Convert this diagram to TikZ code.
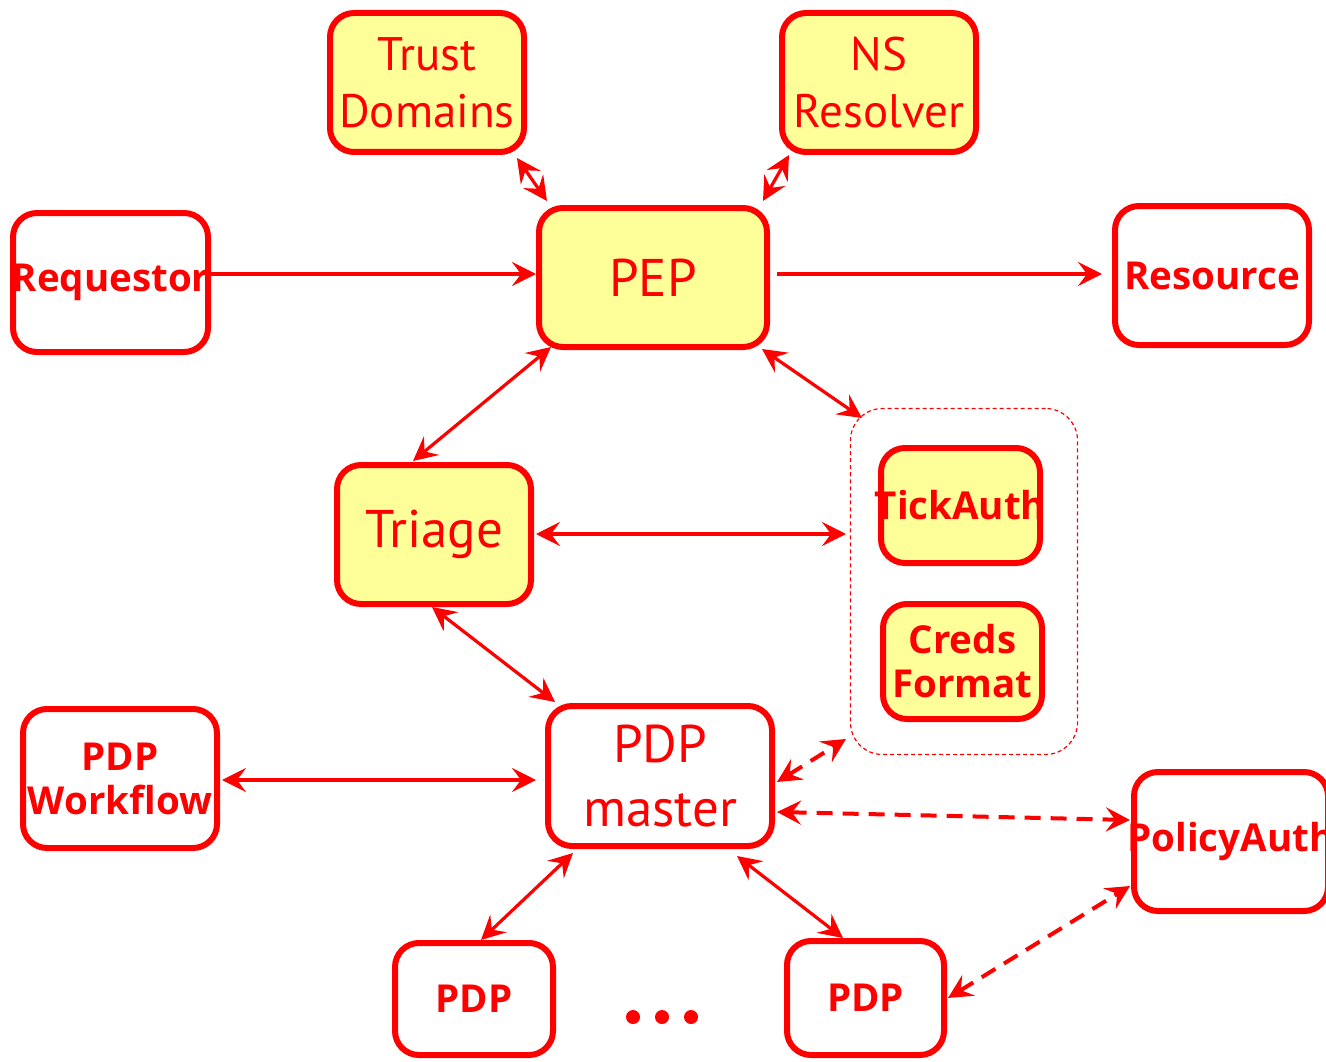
\documentclass[tikz,border=0pt]{standalone}
\usepackage{fontspec}
\setmainfont{PT Sans}
\newfontfamily\boldfam{Open Sans}
\usetikzlibrary{arrows.meta}
\definecolor{boxyellow}{HTML}{FFFF99}
\definecolor{pured}{HTML}{FF0000}
\tikzset{
  box/.style={draw=pured, line width=6pt, rounded corners=24pt, text=pured, align=center, inner sep=0pt},
  ybox/.style={box, fill=boxyellow},
  wbox/.style={box, fill=white},
  regtxt/.style={font=\fontsize{47}{57}\selectfont},
  bigtxt/.style={font=\fontsize{53}{64}\selectfont},
  boldtxt/.style={font=\boldfam\fontsize{38.5}{44}\selectfont\bfseries},
  tip/.tip={Stealth[length=24pt,width=24pt,inset=9pt]},
  arr/.style={draw=pured, line width=3.2pt, tip-tip},
  arrone/.style={draw=pured, line width=3.2pt, -tip},
  darr/.style={draw=pured, line width=4pt, dash pattern=on 16pt off 10pt, tip-tip},
  grpbox/.style={draw=pured, line width=1.2pt, dash pattern=on 4pt off 3pt, rounded corners=32pt, inner sep=0pt},
}
\begin{document}
\begin{tikzpicture}[x=1pt,y=-1pt]
\useasboundingbox (0,0) rectangle (1326,1062);
\fill[white] (0,0) rectangle (1326,1062);
\clip (0,0) rectangle (1326,1062);

% group box
\node[grpbox, minimum width=227pt, minimum height=346pt] (grp) at (964,581.5) {};

% nodes
\node[ybox, regtxt, minimum width=194pt, minimum height=139pt] (td) at (427,82.5) {Trust\\Domains};
\node[ybox, regtxt, minimum width=194pt, minimum height=139pt] (ns) at (879,82.5) {NS\\Resolver};
\node[wbox, boldtxt, minimum width=195pt, minimum height=139pt] (req) at (110.5,282.5) {\makebox[0pt]{Requestor}};
\node[ybox, bigtxt, minimum width=228pt, minimum height=139pt] (pep) at (653,277.5) {PEP};
\node[wbox, boldtxt, minimum width=194pt, minimum height=139pt] (res) at (1212,275.5) {\makebox[0pt]{Resource}};
\node[ybox, bigtxt, minimum width=194pt, minimum height=139pt] (tri) at (434,534.5) {Triage};
\node[ybox, boldtxt, minimum width=159pt, minimum height=115pt] (tick) at (960.5,505.5) {\makebox[0pt]{TickAuth}};
\node[ybox, boldtxt, minimum width=159pt, minimum height=115pt] (creds) at (962.5,661.5) {Creds\\Format};
\node[wbox, boldtxt, minimum width=194pt, minimum height=139pt] (wf) at (120,778.5) {PDP\\Workflow};
\node[wbox, bigtxt, minimum width=224pt, minimum height=140pt] (pdpm) at (660,776) {PDP\\master};
\node[wbox, boldtxt, minimum width=194pt, minimum height=139pt] (pa) at (1231,841.5) {\makebox[0pt]{PolicyAuth}};
\node[wbox, boldtxt, minimum width=158pt, minimum height=112pt] (p1) at (474,999) {PDP};
\node[wbox, boldtxt, minimum width=157pt, minimum height=114pt] (p2) at (865.5,998) {PDP};

% dots
\fill[pured] (633,1017) circle (7pt) (662,1017) circle (7pt) (691,1017) circle (7pt);

% connectors
\draw[arrone] ([shift={(100.5,-8.5)}]req.center) -- ([shift={(-117,-3.5)}]pep.center);
\draw[arrone] ([shift={(124,-3.5)}]pep.center) -- ([shift={(-110,-1.5)}]res.center);
\draw[arr] ([shift={(90,75.5)}]td.center) -- ([shift={(-106,-76.5)}]pep.center);
\draw[arr] ([shift={(-90,72.5)}]ns.center) -- ([shift={(110,-76.5)}]pep.center);
\draw[arr] ([shift={(-102,69.5)}]pep.center) -- ([shift={(-21,-73.5)}]tri.center);
\draw[arr] ([shift={(109,71.5)}]pep.center) -- ([shift={(-102,-163.5)}]grp.center);
\draw[arr] ([shift={(102,-0.5)}]tri.center) -- ([shift={(-118,-47.5)}]grp.center);
\draw[arr] ([shift={(-2,72.5)}]tri.center) -- ([shift={(-105,-74)}]pdpm.center);
\draw[arr] ([shift={(102,1.5)}]wf.center) -- ([shift={(-124,4)}]pdpm.center);
\draw[darr] ([shift={(117,6)}]pdpm.center) -- ([shift={(-118,157.5)}]grp.center);
\draw[darr] ([shift={(117,36)}]pdpm.center) -- ([shift={(-101,-21.5)}]pa.center);
\draw[arr] ([shift={(-87,77)}]pdpm.center) -- ([shift={(7,-59)}]p1.center);
\draw[arr] ([shift={(77,80)}]pdpm.center) -- ([shift={(-22.5,-60)}]p2.center);
\draw[darr] ([shift={(82.5,0)}]p2.center) -- ([shift={(-101,44.5)}]pa.center);
\end{tikzpicture}
\end{document}
